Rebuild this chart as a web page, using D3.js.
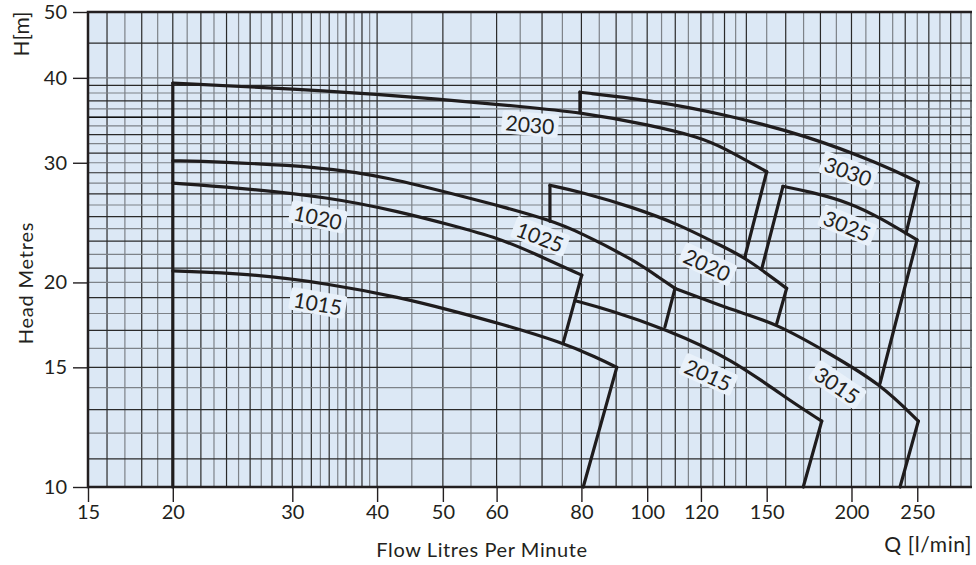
<!DOCTYPE html>
<html>
<head>
<meta charset="utf-8">
<script src="https://cdn.jsdelivr.net/npm/d3@7"></script>
<style>
  body { margin: 0; background: #fff; }
  svg text { font-family: Lato, 'Open Sans', sans-serif; fill: #231f20; }
</style>
</head>
<body>
<div id="chart"></div>
<script>
// Pump curves, each point is [flow l/min, head m]
const curve1015 = [[20,20.8],[26,20.6],[34.1,19.9],[43.3,19.0],[51.3,18.2],[60.7,17.4],[75.2,16.3],[84.3,15.5],[90.2,15.0]];
const curve1020 = [[20,28.0],[24.6,27.6],[34.1,26.7],[43.3,25.4],[51.3,24.3],[60.7,23.2],[67.9,22.1],[80.1,20.5]];
const curve1025 = [[20,30.2],[23.2,30.1],[33.0,29.6],[41.3,28.6],[54.8,26.6],[60.7,25.9],[71.9,24.7],[79.6,23.7],[95.4,21.6],[104.4,20.3],[109.9,19.6]];
const curve2015 = [[78.3,18.8],[88.2,18.2],[106.2,17.1],[133.8,15.4],[158.6,13.6],[180.8,12.5]];
const curve2020 = [[71.9,27.8],[79.6,27.2],[95.4,25.8],[111.8,24.3],[126.6,22.8],[139.3,21.8],[160.5,19.6]];
const curve2030 = [[20,39.3],[34.1,38.3],[50.1,37.2],[65.0,36.3],[79.6,35.6],[101,34.1],[119.6,32.7],[129.4,31.6],[150,29.1]];
const curve3015 = [[109.9,19.6],[119.6,19.0],[133.8,18.2],[155.2,17.4],[185.9,15.7],[220.3,14.2],[250.9,12.5]];
const curve3025 = [[158.5,27.7],[173.8,27.2],[199,26.2],[220.3,24.9],[249.8,23.1]];
const curve3030 = [[79.6,38.1],[101,37.1],[129.4,35.4],[171.8,32.9],[220.3,29.9],[250.9,28.1]];

// straight limit lines between the curves
const limitLines = [
    [[20,10],[20,39.3]],
    [[90.2,15.0],[80.5,10]],
    [[80.1,20.5],[75.2,16.3]],
    [[109.9,19.6],[106.2,17.2]],
    [[71.9,24.6],[71.9,27.8]],
    [[160.5,19.6],[155.2,17.4]],
    [[150,29.1],[139.3,21.8]],
    [[79.6,35.6],[79.6,38.1]],
    [[158.5,27.7],[147.6,21.0]],
    [[250.9,28.1],[240.6,23.6]],
    [[249.8,23.1],[220.3,14.2]],
    [[180.8,12.5],[169.8,10]],
    [[250.9,12.5],[235.8,10]]
];

const curveNames = ['1015','1020','1025','2015','2020','2030','3015','3025','3030'];
const curves = [curve1015, curve1020, curve1025, curve2015, curve2020, curve2030, curve3015, curve3025, curve3030];

const xTicks = [15,20,30,40,50,60,80,100,120,150,200,250];
const yTicks = [10,15,20,30,40,50];
const gridQ = [...d3.range(16,40), ...d3.range(40,100,5), ...d3.range(100,145,5), ...d3.range(150,301,10)];
const gridH = [...d3.range(11,41), 45];

// Chart dimensions
const WIDTH = 976, HEIGHT = 565;
const LEFT = 88, RIGHT = 972, TOP = 12, BOTTOM = 487;

const x = d3.scaleLog().domain([15,300]).range([LEFT,971]);
const y = d3.scaleLog().domain([10,50]).range([BOTTOM,TOP]);

var svg = d3.select('#chart').append('svg')
    .attr('width', WIDTH)
    .attr('height', HEIGHT);

// plot background
svg.append('rect')
    .attr('x', LEFT).attr('y', TOP)
    .attr('width', RIGHT-LEFT).attr('height', BOTTOM-TOP)
    .attr('fill', '#dce8f5');

// grid lines, dark and grey in turn
var grid = svg.append('g');
grid.selectAll('.gx').data(gridQ).enter().append('line')
    .attr('x1', d=>x(d)).attr('x2', d=>x(d))
    .attr('y1', TOP).attr('y2', BOTTOM)
    .attr('stroke', (d,i)=> i%2 ? '#7d8288' : '#2a2a2a')
    .attr('stroke-width', 1.2);
grid.selectAll('.gy').data(gridH).enter().append('line')
    .attr('x1', LEFT).attr('x2', RIGHT)
    .attr('y1', d=>y(d)).attr('y2', d=>y(d))
    .attr('stroke', (d,i)=> i%2 ? '#7d8288' : '#2a2a2a')
    .attr('stroke-width', 1.2);
// dark guide line at 35 m
grid.append('line')
    .attr('x1', LEFT).attr('x2', x(56.7))
    .attr('y1', y(35)).attr('y2', y(35))
    .attr('stroke', '#111').attr('stroke-width', 1.6);

// axes
var xAxis = svg.append('g')
    .attr('transform', 'translate(0,' + BOTTOM + ')')
    .call(d3.axisBottom(x).tickValues(xTicks).tickFormat(d3.format('d')).tickSize(15).tickPadding(3));
var yAxis = svg.append('g')
    .attr('transform', 'translate(' + LEFT + ',0)')
    .call(d3.axisLeft(y).tickValues(yTicks).tickFormat(d3.format('d')).tickSize(15).tickPadding(6));
[xAxis, yAxis].forEach(a=>{
    a.select('.domain').remove();
    a.selectAll('line').attr('stroke', '#231f20').attr('stroke-width', 1.4);
    a.selectAll('text').style('font-size', '20px').attr('fill', '#231f20');
});

// frame
svg.append('path')
    .attr('d', `M${RIGHT},${TOP}H${LEFT}V${BOTTOM}H${RIGHT}`)
    .attr('fill', 'none').attr('stroke', '#231f20').attr('stroke-width', 2.5);

// curves
var smooth = d3.line().x(d=>x(d[0])).y(d=>y(d[1])).curve(d3.curveBasis);
var straight = d3.line().x(d=>x(d[0])).y(d=>y(d[1]));

svg.append('g').selectAll('path').data(curves).enter().append('path')
    .attr('d', smooth)
    .attr('fill', 'none').attr('stroke', '#1f1c1d')
    .attr('stroke-width', 3.2).attr('stroke-linecap', 'round').attr('stroke-linejoin', 'round');
svg.append('g').selectAll('path').data(limitLines).enter().append('path')
    .attr('d', straight)
    .attr('fill', 'none').attr('stroke', '#1f1c1d')
    .attr('stroke-width', 3.2).attr('stroke-linecap', 'round');

// curve labels: [flow, head, angle]
const labelSpots = {
    '1015': [32.7,18.6,10], '1020': [32.7,24.9,12], '1025': [69.5,23.3,21],
    '2015': [122.9,14.6,24], '2020': [122.5,21.2,25], '2030': [67.2,34.1,5],
    '3015': [190.3,14.1,34], '3025': [197,24.2,22], '3030': [197.6,29.1,20]
};
var labels = svg.append('g').selectAll('g').data(curveNames).enter().append('g')
    .attr('transform', d=>{
        let s = labelSpots[d];
        return `translate(${x(s[0])},${y(s[1])}) rotate(${s[2]})`;
    });
labels.append('text')
    .attr('text-anchor', 'middle')
    .attr('dy', '0.36em')
    .style('font-size', '21px')
    .text(d=>d);
labels.each(function(){
    let g = d3.select(this);
    let b = g.select('text').node().getBBox();
    g.insert('rect', 'text')
        .attr('x', b.x-4).attr('y', b.y+1)
        .attr('width', b.width+8).attr('height', b.height-2)
        .attr('rx', 3)
        .attr('fill', '#e9f1fa');
});

// axis titles
svg.append('text')
    .attr('x', 482).attr('y', 557)
    .attr('text-anchor', 'middle')
    .style('font-size', '20px').style('letter-spacing', '0.6px')
    .text('Flow Litres Per Minute');
svg.append('text')
    .attr('x', 972).attr('y', 552)
    .attr('text-anchor', 'end')
    .style('font-size', '21px').style('letter-spacing', '0.6px')
    .text('Q [l/min]');
svg.append('text')
    .attr('transform', 'translate(33,283) rotate(-90)')
    .attr('text-anchor', 'middle')
    .style('font-size', '20px').style('letter-spacing', '0.8px')
    .text('Head Metres');
svg.append('text')
    .attr('transform', 'translate(29,34) rotate(-90)')
    .attr('text-anchor', 'middle')
    .style('font-size', '21px')
    .text('H[m]');
</script>
</body>
</html>
